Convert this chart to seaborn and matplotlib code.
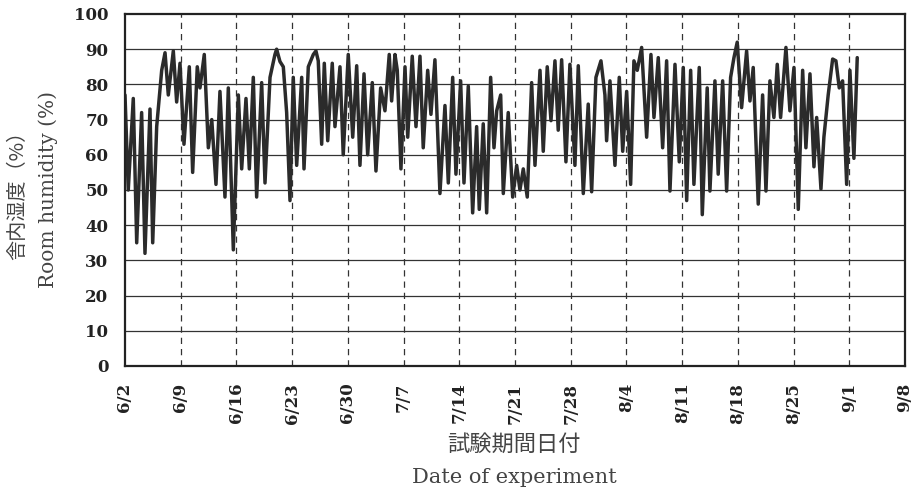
import numpy as np
import pandas as pd
import matplotlib
matplotlib.use("Agg")
import matplotlib.pyplot as plt
import seaborn as sns

# days counted from 6/2, humidity (%) read at the turning points of the trace
days = [0.0, 0.41, 1.04, 1.47, 2.09, 2.51, 3.14, 3.48, 3.98, 4.61, 5.03, 5.44,
        6.07, 6.49, 6.91, 7.41, 8.08, 8.50, 9.08, 9.42, 9.96, 10.47, 10.9, 11.43,
        11.93, 12.56, 12.98, 13.61, 14.24, 14.66, 15.2, 15.62, 16.12, 16.54, 17.17,
        17.59, 18.22, 18.84, 19.05, 19.47, 19.89, 20.31, 20.73,
        21.14, 21.57, 22.2, 22.49, 23.03, 23.66, 23.99, 24.28, 24.71, 25.04, 25.47,
        26.04, 26.38, 27.01, 27.42, 28.05, 28.61, 29.11, 29.52, 30.03, 30.49, 31.07,
        31.53, 32.12, 32.66, 33.2, 33.5, 33.92, 34.21, 34.67, 35.18, 35.52, 36.09,
        36.56, 37.06, 37.47, 38.03, 38.44, 38.94, 39.57, 40.2, 40.62, 41.17, 41.58,
        42.17, 42.59, 43.13,
        43.68, 44.18, 44.51, 45.01, 45.44, 45.94, 46.36, 46.7, 47.2, 47.53, 48.15,
        48.71, 49.21, 49.62, 50.04, 50.54, 51.09, 51.51, 52.14, 52.55, 53.05, 53.52,
        54.02, 54.43, 54.86, 55.4, 55.9, 56.53, 56.95, 57.58, 58.2, 58.63, 59.17,
        59.8, 60.3, 60.51, 60.93, 61.56, 62.1, 62.53, 63.03, 63.53, 63.94, 64.36,
        64.91, 65.54, 66.08, 66.46, 67.0, 67.55, 68.05, 68.47, 69.1, 69.64, 70.14,
        70.57, 71.07, 71.48, 72.15, 72.53, 73.15, 73.49, 74.12, 74.53, 75.09, 75.59,
        76.09, 76.51, 76.92, 77.47, 78.1, 78.52, 78.93, 79.56, 80.11, 80.53, 81.03,
        81.53, 81.95, 82.37, 83.04, 83.54, 84.05, 84.59, 85.14, 85.55, 86.06, 86.56,
        86.9, 87.44, 87.81, 88.35, 88.91, 89.32, 89.74, 90.16, 90.67, 91.08, 91.58,
        92.0]
humidity = [77, 50, 76, 35, 72, 32, 73, 35, 68, 84, 89, 77,
            89.5, 75, 86, 63, 85, 55, 85, 79, 88.5, 62, 70, 51.6,
            78, 48, 79, 33, 77, 56, 76, 56, 82, 48, 80.5,
            52, 82, 88.5, 90, 86.5, 85, 72, 47,
            82, 57, 82, 56, 85, 88.5, 89.5, 86.7, 63, 86, 64,
            86, 68, 85, 60, 88.5, 65, 85.3, 57, 83, 60, 80.5,
            55.4, 79, 72.5, 88.5, 75.3, 88.5, 84, 56, 85, 65, 88,
            68, 88, 62, 84, 71.5, 87, 49, 74, 52, 82, 54.5,
            81, 52, 79.5,
            43.5, 68, 44.5, 68.8, 43.5, 82, 62, 72.5, 77, 49, 72,
            48, 57, 50, 56, 48, 80.5, 57, 84, 61, 85, 69.7,
            86.7, 67, 87, 58, 85.7, 57, 85.3, 49, 74.4, 49.5, 82,
            86.7, 77, 64, 81, 57, 82, 61, 78, 51.6, 86.7, 84,
            90.5, 65, 88.5, 70.6, 87.6, 62, 86.7, 49.7, 85.7, 58, 84.8,
            47, 84, 51.6, 84.8, 43, 79, 49.7, 81, 54.5, 81, 49.7,
            82, 87.6, 92, 73.4, 89.5, 75.3, 84.8, 46, 77, 49.7, 81,
            70.6, 85.7, 70.6, 90.5, 72.5, 84.8, 44.5, 84, 62, 83, 56.6,
            70.6, 50.3, 65, 77, 87.2, 86.7, 79, 81, 51.6, 84, 59,
            87.6]

tick_days = list(range(0, 99, 7))
tick_labels = ["6/2", "6/9", "6/16", "6/23", "6/30", "7/7", "7/14", "7/21",
               "7/28", "8/4", "8/11", "8/18", "8/25", "9/1", "9/8"]
y_ticks = list(range(0, 101, 10))

df = pd.DataFrame({"day": days, "humidity": humidity})

sns.set_style("white")
plt.rcParams["font.family"] = ["DejaVu Serif", "Noto Sans CJK JP"]

fig = plt.figure(figsize=(9.16, 4.92), dpi=100)
ax = fig.add_axes([125 / 916, 126 / 492, 780 / 916, 352 / 492])

sns.lineplot(data=df, x="day", y="humidity", ax=ax, color="#2b2b2b", linewidth=2.5)

ax.set_xlim(0, 98)
ax.set_ylim(0, 100)
ax.set_yticks(y_ticks)
ax.set_xticks(tick_days)
ax.set_xticklabels(tick_labels, rotation=90)
ax.tick_params(axis="both", length=0, labelsize=12, colors="#222222")
ax.xaxis.set_tick_params(pad=12)
ax.yaxis.set_tick_params(pad=12)
for lab in ax.get_xticklabels() + ax.get_yticklabels():
    lab.set_fontweight("bold")

for y in y_ticks[1:-1]:
    ax.axhline(y, color="#333333", linewidth=0.9, zorder=0)
for d in tick_days[1:-1]:
    ax.axvline(d, color="#333333", linewidth=0.9, linestyle=(0, (5, 4)), zorder=0)

for s in ax.spines.values():
    s.set_color("#222222")
    s.set_linewidth(1.6)

ax.set_xlabel("")
ax.set_ylabel("")

# axis titles, Japanese above English
fig.text(0.561, 0.096, "試験期間日付", ha="center", va="center", fontsize=16,
         color="#444444", family=["Noto Sans CJK JP", "DejaVu Sans"])
fig.text(0.561, 0.03, "Date of experiment", ha="center", va="center", fontsize=15,
         color="#444444", family=["DejaVu Serif"])
fig.text(0.019, 0.614, "舎内湿度（%）", ha="center", va="center", rotation=90,
         fontsize=14.5, color="#444444", family=["Noto Sans CJK JP", "DejaVu Sans"])
fig.text(0.053, 0.614, "Room humidity (%)", ha="center", va="center", rotation=90,
         fontsize=14.5, color="#444444", family=["DejaVu Serif"])

fig.savefig("out.png", dpi=100)
